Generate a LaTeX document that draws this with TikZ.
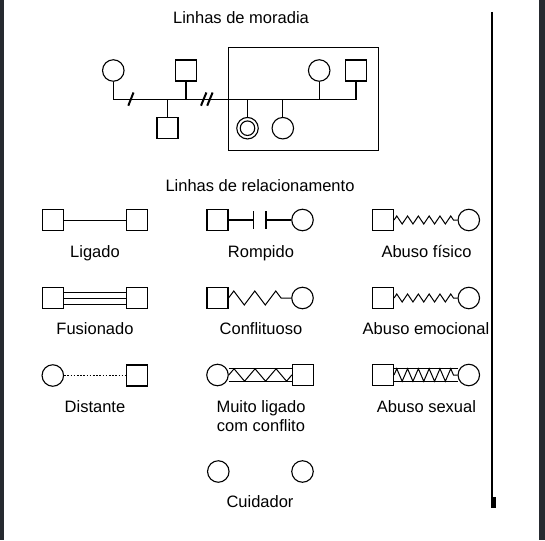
\documentclass[tikz,border=0pt]{standalone}
\usepackage{fontspec}
\setmainfont{Liberation Sans}
\usetikzlibrary{decorations.pathmorphing}
\definecolor{framedark}{RGB}{38,42,48}
\begin{document}
\begin{tikzpicture}[x=1pt,y=-1pt,
  every node/.style={font=\fontsize{16.5}{19}\selectfont},
  sq/.style={draw, rectangle, minimum size=21pt, inner sep=0pt, line width=1.1pt},
  ci/.style={draw, circle, minimum size=21.5pt, inner sep=0pt, line width=1.1pt},
  ln/.style={line width=1.1pt},
  slash/.style={line width=2pt},
  lbl/.style={anchor=base, inner sep=0pt},
  zzsmall/.style={line width=1pt, decorate, decoration={zigzag, segment length=10.8pt, amplitude=4pt}},
  zzbig/.style={line width=1pt, decorate, decoration={zigzag, segment length=21pt, amplitude=7pt}},
  zzmid/.style={line width=1pt, decorate, decoration={zigzag, segment length=21pt, amplitude=6.2pt}},
  zzsex/.style={line width=1pt, decorate, decoration={zigzag, segment length=10.8pt, amplitude=6.3pt}}]
\useasboundingbox (0,0) rectangle (545,540);
\fill[white] (0,0) rectangle (545,540);
\fill[framedark] (0,0) rectangle (3.5,540);
\fill[framedark] (538.5,0) rectangle (545,540);
\draw[line width=2pt] (492,12) -- (492,507);
\fill[black] (491,497) rectangle (495.5,507.5);

% ---------- Linhas de moradia ----------
\node[lbl] (t1) at (241,23.5) {Linhas de moradia};
\node[draw, line width=1.1pt, minimum width=150pt, minimum height=103.4pt, inner sep=0pt] (house) at (303.3,99) {};
\coordinate (hl) at (0,99.3);
\node[ci] (gm) at (113.3,70.5) {};
\node[sq] (gf) at (186,70.5) {};
\node[sq] (sib) at (167.5,128) {};
\node[ci] (mo) at (319.2,70.5) {};
\node[sq] (fa) at (356,70.5) {};
\node[ci] (ic) at (247.5,128.2) {};
\node[circle, draw, line width=1.1pt, minimum size=14.5pt, inner sep=0pt] (ici) at (247.5,128.2) {};
\node[ci] (c2) at (282.8,128.2) {};
\draw[ln] (gm.south) |- (fa.south |- hl) -- (fa.south);
\draw[ln] (gf.south) -- (gf.south |- hl);
\draw[ln] (sib.north) -- (sib.north |- hl);
\draw[ln] (mo.south) -- (mo.south |- hl);
\draw[ln] (ic.north) -- (ic.north |- hl);
\draw[ln] (c2.north) -- (c2.north |- hl);
\draw[slash] (128.3,105.7) -- (133.5,92.5);
\draw[slash] (201,105.7) -- (206.4,92.5);
\draw[slash] (207.2,105.7) -- (212.6,92.5);

% ---------- Linhas de relacionamento ----------
\node[lbl] (t2) at (260,191.5) {Linhas de relacionamento};

% Ligado
\node[sq] (la) at (52.8,220) {};
\node[sq] (lb) at (137,220) {};
\draw[line width=1pt] (la.east) -- (lb.west);
\node[lbl] (llig) at (95,257) {Ligado};

% Rompido
\node[sq] (ra) at (217.5,220) {};
\node[ci] (rb) at (302.5,220) {};
\coordinate (rb1) at (253.3,220);
\coordinate (rb2) at (266,220);
\draw[ln] (ra.east) -- (rb1);
\draw[ln] ([yshift=9pt]rb1) -- ([yshift=-9pt]rb1);
\draw[ln] ([yshift=9pt]rb2) -- ([yshift=-9pt]rb2);
\draw[ln] (rb2) -- (rb.west);
\node[lbl] (lrom) at (261,257) {Rompido};

% Abuso fisico
\node[sq] (fa1) at (383,220) {};
\node[ci] (fb1) at (468.8,220) {};
\draw[zzsmall] (fa1.east) -- (fb1.west);
\node[lbl] (lfis) at (426.5,257) {Abuso físico};

% Fusionado
\node[sq] (fua) at (52.8,298) {};
\node[sq] (fub) at (137,298) {};
\draw[line width=1pt] ([yshift=6pt]fua.east) -- ([yshift=6pt]fub.west);
\draw[line width=1pt] (fua.east) -- (fub.west);
\draw[line width=1pt] ([yshift=-6pt]fua.east) -- ([yshift=-6pt]fub.west);
\node[lbl] (lfus) at (95,334.5) {Fusionado};

% Conflituoso
\node[sq] (coa) at (217.5,298) {};
\node[ci] (cob) at (302.5,298) {};
\draw[zzbig] (coa.east) -- (cob.west);
\node[lbl] (lcon) at (261,334.5) {Conflituoso};

% Abuso emocional
\node[sq] (ea) at (383,298) {};
\node[ci] (eb) at (468.8,298) {};
\draw[zzsmall] (ea.east) -- (eb.west);
\node[lbl] (lemo) at (426,334.5) {Abuso emocional};

% Distante
\node[ci] (da) at (52.8,375.5) {};
\node[sq] (db) at (137,375.5) {};
\draw[line width=0.9pt, dash pattern=on 1.6pt off 1.6pt] (da.east) -- (db.west);
\node[lbl] (ldis) at (95,412) {Distante};

% Muito ligado com conflito
\node[ci] (ma) at (217.5,375) {};
\node[sq] (mb) at (303,375) {};
\draw[line width=1pt] ([yshift=6.3pt]ma.east) -- ([yshift=6.3pt]mb.west);
\draw[line width=1pt] ([yshift=-6.3pt]ma.east) -- ([yshift=-6.3pt]mb.west);
\draw[zzmid] (ma.east) -- (mb.west);
\node[lbl] (lmu1) at (261,412) {Muito ligado};
\node[lbl] (lmu2) at (261,431) {com conflito};

% Abuso sexual
\node[sq] (sa) at (383,375) {};
\node[ci] (sb) at (468.8,375) {};
\draw[line width=1pt] ([yshift=6.3pt]sa.east) -- ([yshift=6.3pt]sb.west);
\draw[line width=1pt] ([yshift=-6.3pt]sa.east) -- ([yshift=-6.3pt]sb.west);
\draw[zzsex] (sa.east) -- (sb.west);
\node[lbl] (lsex) at (426.5,412) {Abuso sexual};

% Cuidador
\node[ci] (cua) at (218.3,471.5) {};
\node[ci] (cub) at (302.5,471.5) {};
\begin{scope}
\clip (0,0) rectangle (545,508);
\node[lbl] (lcui) at (260,507.5) {Cuidador};
\end{scope}
\end{tikzpicture}
\end{document}
